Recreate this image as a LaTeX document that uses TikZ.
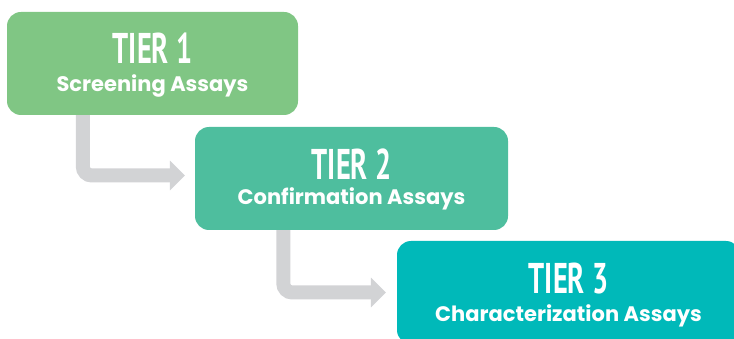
\documentclass[tikz,border=0pt]{standalone}
\usepackage{fontspec}
\usepackage{graphicx}
\usetikzlibrary{arrows.meta,calc}
\newfontfamily\titlefont{PT Sans}
\newfontfamily\subfont{Poppins}
\definecolor{tierA}{HTML}{80C684}
\definecolor{tierB}{HTML}{4EBE9E}
\definecolor{tierC}{HTML}{00B9B9}
\definecolor{flowgray}{HTML}{D2D3D5}
\newcommand{\tiername}[1]{{\titlefont\bfseries\fontsize{43}{43}\selectfont\scalebox{0.66}[1]{#1}}}
\tikzset{
  tierbox/.style={fill=#1, draw=none, rounded corners=14pt, minimum height=103pt, inner sep=0pt},
  titletext/.style={text=white, anchor=base, inner sep=0pt},
  subtext/.style={text=white, anchor=base, inner sep=0pt, font=\subfont\bfseries\fontsize{21}{21}\selectfont},
  flow/.style={draw=flowgray, line width=14pt, rounded corners=9pt,
    -{Triangle[width=29pt,length=15pt]}}
}
\begin{document}
\begin{tikzpicture}[x=1pt,y=-1pt]
  \useasboundingbox (0,0) rectangle (734,339);
  \clip (0,0) rectangle (734,339);
  % tier boxes
  \node[tierbox=tierA, minimum width=291pt] (t1) at (152.5,63.5) {};
  \node[tierbox=tierB, minimum width=313pt] (t2) at (351.5,178.5) {};
  \node[tierbox=tierC, minimum width=343pt] (t3) at (568.5,292.5) {};
  % connectors
  \coordinate (a1) at ($(t1.south west)+(76,0)$);
  \coordinate (a2) at ($(t2.south west)+(88.5,0)$);
  \draw[flow] (a1) |- ([xshift=-10pt,yshift=3pt]t2.west);
  \draw[flow] (a2) |- ([xshift=-11pt]t3.west);
  % labels
  \node[titletext] (t1a) at ([yshift=-52pt]t1.north) {\tiername{TIER 1}};
  \node[subtext] (t1b) at ([yshift=-80pt]t1.north) {Screening Assays};
  \node[titletext] (t2a) at ([yshift=-53pt]t2.north) {\tiername{TIER 2}};
  \node[subtext] (t2b) at ([yshift=-78pt]t2.north) {Confirmation Assays};
  \node[titletext] (t3a) at ([yshift=-53pt]t3.north) {\tiername{TIER 3}};
  \node[subtext] (t3b) at ([yshift=-81pt]t3.north) {Characterization Assays};
\end{tikzpicture}
\end{document}
